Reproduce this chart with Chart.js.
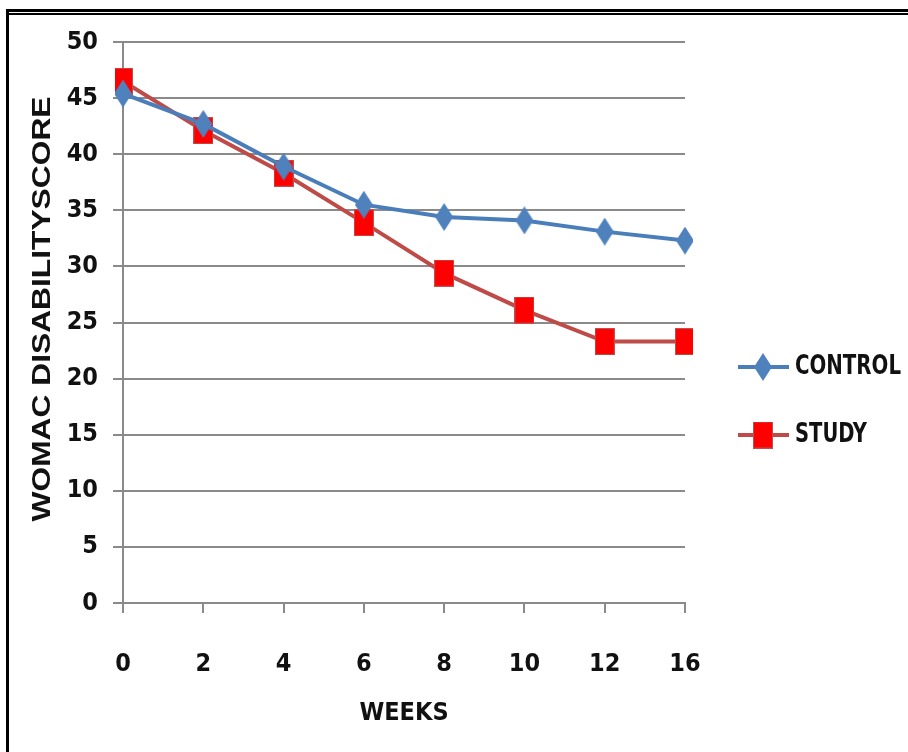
<!DOCTYPE html>
<html>
<head>
<meta charset="utf-8">
<script src="https://cdn.jsdelivr.net/npm/chart.js@4"></script>
<style>
  body { margin: 0; background: #fff; }
  #wrap { position: relative; width: 908px; height: 752px; overflow: hidden; }
  #chart { position: absolute; left: 0; top: 0; }
  .rule { position: absolute; background: #000; }
</style>
</head>
<body>
<div id="wrap">
  <canvas id="chart" width="908" height="752"></canvas>
  <div class="rule" style="left:6px; top:9px; width:902px; height:3px;"></div>
  <div class="rule" style="left:6px; top:13px; width:902px; height:2px;"></div>
  <div class="rule" style="left:6px; top:9px; width:3px; height:743px;"></div>
</div>
<script>
const weeks = ['0', '2', '4', '6', '8', '10', '12', '16'];
const control = [45.4, 42.7, 38.9, 35.5, 34.4, 34.1, 33.1, 32.3];
const study = [46.5, 42.1, 38.3, 33.9, 29.4, 26.1, 23.3, 23.3];
const seriesNames = ['CONTROL', 'STUDY'];
const yTitle = 'WOMAC DISABILITYSCORE';
const xTitle = 'WEEKS';

const narrow = "'Liberation Sans Narrow', 'DejaVu Sans Condensed', sans-serif";

// excel-ish markers, taller than wide
function marker(kind) {
  const c = document.createElement('canvas');
  const ctx = c.getContext('2d');
  if (kind === 'diamond') {
    c.width = 18; c.height = 28;
    ctx.fillStyle = '#4F81BD';
    ctx.beginPath();
    ctx.moveTo(9, 0); ctx.lineTo(18, 14); ctx.lineTo(9, 28); ctx.lineTo(0, 14);
    ctx.closePath();
    ctx.fill();
  } else {
    c.width = 20; c.height = 27;
    ctx.fillStyle = '#C0504D';
    ctx.fillRect(0, 0, 20, 27);
    ctx.fillStyle = '#FF0000';
    ctx.fillRect(1, 1, 18, 25);
  }
  return c;
}
const diamond = marker('diamond');
const square = marker('square');

// text squeezed to a target width, like the narrow office font
function squeezed(ctx, text, x, y, maxW) {
  const w = ctx.measureText(text).width;
  const k = Math.min(1, maxW / w);
  ctx.save();
  ctx.translate(x, y);
  ctx.scale(k, 1);
  ctx.fillText(text, 0, 0);
  ctx.restore();
}

const sideLegend = {
  id: 'sideLegend',
  afterDraw(chart) {
    const ctx = chart.ctx;
    const rows = [
      { y: 367, line: '#4A7EBB', img: diamond, w: 106 },
      { y: 435, line: '#BE4B48', img: square, w: 72 },
    ];
    ctx.save();
    rows.forEach((r, i) => {
      ctx.strokeStyle = r.line;
      ctx.lineWidth = 4;
      ctx.beginPath();
      ctx.moveTo(738, r.y);
      ctx.lineTo(789, r.y);
      ctx.stroke();
      ctx.drawImage(r.img, 763 - r.img.width / 2, r.y - r.img.height / 2);
      ctx.fillStyle = '#111';
      ctx.font = 'bold 27px ' + narrow;
      ctx.textBaseline = 'middle';
      ctx.textAlign = 'left';
      squeezed(ctx, seriesNames[i], 795, r.y, r.w);
    });
    ctx.restore();
  }
};

const sideTitle = {
  id: 'sideTitle',
  afterDraw(chart) {
    const ctx = chart.ctx;
    ctx.save();
    ctx.translate(43, 309);
    ctx.rotate(-Math.PI / 2);
    ctx.font = "bold 25px 'Liberation Sans', Arial, sans-serif";
    const w = ctx.measureText(yTitle).width;
    ctx.scale(425 / w, 1);
    ctx.fillStyle = '#111';
    ctx.textAlign = 'center';
    ctx.textBaseline = 'middle';
    ctx.fillText(yTitle, 0, 0);
    ctx.restore();
  }
};

new Chart(document.getElementById('chart'), {
  type: 'line',
  data: {
    labels: weeks,
    datasets: [
      {
        label: seriesNames[0],
        data: control,
        borderColor: '#4A7EBB',
        backgroundColor: '#4F81BD',
        borderWidth: 4,
        pointStyle: diamond,
        tension: 0
      },
      {
        label: seriesNames[1],
        data: study,
        borderColor: '#BE4B48',
        backgroundColor: '#FF0000',
        borderWidth: 4,
        pointStyle: square,
        tension: 0
      }
    ]
  },
  options: {
    responsive: false,
    animation: false,
    layout: { padding: { top: 42, right: 223, left: 0, bottom: 0 } },
    plugins: {
      legend: { display: false },
      tooltip: { enabled: false }
    },
    scales: {
      x: {
        offset: false,
        afterFit: (s) => { s.height = 149; },
        grid: { drawOnChartArea: false, drawTicks: true, tickLength: 10, color: '#8a8a8a', lineWidth: 2 },
        border: { color: '#8a8a8a', width: 2 },
        ticks: { color: '#111', padding: 36, maxRotation: 0, font: { family: narrow, weight: 'bold', size: 25 } },
        title: { display: true, text: xTitle, color: '#111', padding: { bottom: 24, top: 0 }, font: { family: narrow, weight: 'bold', size: 25 } }
      },
      y: {
        min: 0,
        max: 50,
        afterFit: (s) => { s.width = 123; },
        grid: { color: '#8a8a8a', lineWidth: 2, tickLength: 10 },
        border: { color: '#8a8a8a', width: 2 },
        ticks: { stepSize: 5, color: '#111', padding: 15, font: { family: narrow, weight: 'bold', size: 25 } }
      }
    }
  },
  plugins: [sideLegend, sideTitle]
});
</script>
</body>
</html>
